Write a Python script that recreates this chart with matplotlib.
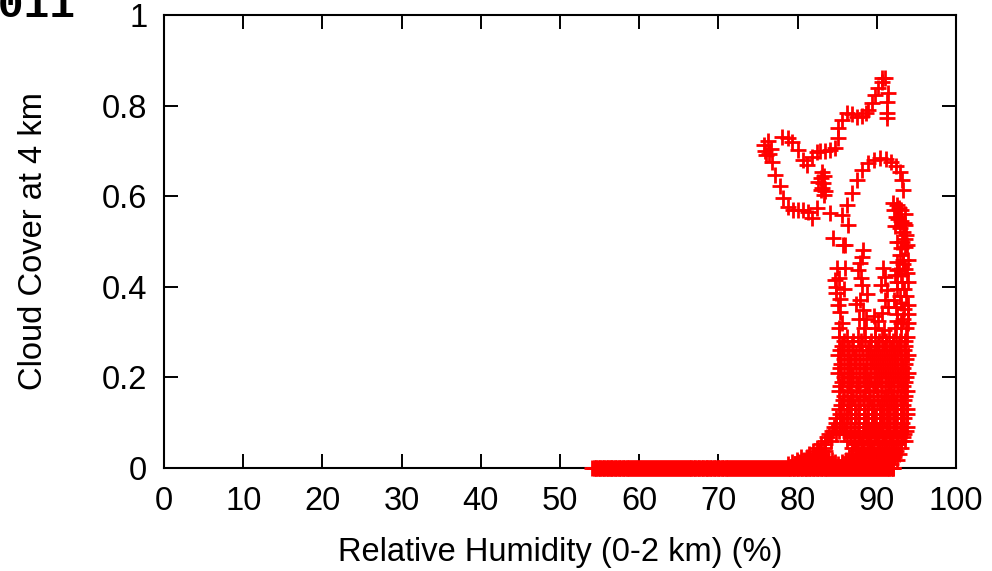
import matplotlib
matplotlib.use("Agg")
import matplotlib.pyplot as plt

# ---------------- data ----------------
x_ticks = [0, 10, 20, 30, 40, 50, 60, 70, 80, 90, 100]
y_ticks = [0, 0.2, 0.4, 0.6, 0.8, 1]
y_tick_labels = ["0", "0.2", "0.4", "0.6", "0.8", "1"]

# points lying on zero cloud cover
rh_zero = [54.1, 54.4, 54.6, 54.9, 55.1, 55.4, 55.6, 55.9, 56.1, 56.4, 56.6, 56.9,
           57.1, 57.4, 57.6, 57.9, 58.1, 58.4, 58.6, 58.9, 59.1, 59.4, 59.6, 59.9,
           60.1, 60.4, 60.6, 60.9, 61.1, 61.4, 61.6, 61.9, 62.1, 62.4, 62.6, 62.9,
           63.1, 63.4, 63.6, 63.9, 64.1, 64.4, 64.6, 64.9, 65.1, 65.4, 65.6, 65.9,
           66.1, 66.4, 66.6, 66.9, 67.1, 67.4, 67.6, 67.9, 68.1, 68.4, 68.6, 68.9,
           69.1, 69.4, 69.6, 69.9, 70.1, 70.4, 70.6, 70.9, 71.1, 71.4, 71.6, 71.9,
           72.1, 72.4, 72.6, 72.9, 73.1, 73.4, 73.6, 73.9, 74.1, 74.4, 74.6, 74.9,
           75.1, 75.4, 75.6, 75.9, 76.1, 76.4, 76.6, 76.9, 77.1, 77.4, 77.6, 77.9,
           78.1, 78.4, 78.6, 78.9, 79.1, 79.4, 79.6, 79.9, 80.1, 80.4, 80.6, 80.9,
           81.1, 81.4, 81.6, 81.9, 82.1, 82.4, 82.6, 82.9, 83.1, 83.4, 83.6, 83.9,
           84.1, 84.4, 84.6, 84.9, 85.1, 85.4, 85.6, 85.9, 86.1, 86.4, 86.6, 86.9,
           87.1, 87.4, 87.6, 87.9, 88.1, 88.4, 88.6, 88.9, 89.1, 89.4, 89.6, 89.9,
           90.1, 90.4, 90.6, 90.9, 91.1, 91.4, 91.6, 91.9, 92.1,
           54.25, 54.5, 54.75, 55.0, 55.25, 55.5, 55.75, 56.0, 56.25, 56.5, 56.75,
           57.0, 57.25, 57.5, 57.75, 58.0, 58.25, 58.5, 58.75, 59.0, 59.25, 59.5,
           59.75, 60.0, 60.25, 60.5, 60.75, 61.0, 61.25, 61.5, 61.75, 62.0, 62.25,
           62.5, 62.75, 63.0, 63.25, 63.5, 63.75, 64.0, 64.25, 64.5, 64.75, 65.0,
           65.25, 65.5, 65.75, 66.0, 66.25, 66.5, 66.75, 67.0, 67.25, 67.5, 67.75,
           68.0, 68.25, 68.5, 68.75, 69.0, 69.25, 69.5, 69.75, 70.0, 70.25, 70.5,
           70.75, 71.0, 71.25, 71.5, 71.75, 72.0, 72.25, 72.5, 72.75, 73.0, 73.25,
           73.5, 73.75, 74.0, 74.25, 74.5, 74.75, 75.0, 75.25, 75.5, 75.75, 76.0,
           76.25, 76.5, 76.75, 77.0, 77.25, 77.5, 77.75, 78.0, 78.25, 78.5, 78.75,
           79.0, 79.25, 79.5, 79.75, 80.0, 80.25, 80.5, 80.75, 81.0, 81.25, 81.5,
           81.75, 82.0, 82.25, 82.5, 82.75, 83.0, 83.25, 83.5, 83.75, 84.0, 84.25,
           84.5, 84.75, 85.0, 85.25, 85.5, 85.75, 86.0, 86.25, 86.5, 86.75, 87.0,
           87.25, 87.5, 87.75, 88.0, 88.25, 88.5, 88.75, 89.0, 89.25, 89.5, 89.75,
           90.0, 90.25, 90.5, 90.75, 91.0, 91.25, 91.5, 91.75, 92.0]
cc_zero = [0.0] * len(rh_zero)

# upper loops
rh_loop = [75.7, 75.9, 76.2, 76.4, 76.0, 76.6, 76.8, 77.1, 77.8, 78.2, 78.8, 79.4,
           80.1, 80.7, 81.3, 81.8, 82.4, 83.3,
           78.0, 78.8, 79.3, 80.1, 80.7, 81.2, 81.8, 82.4, 82.8, 83.5, 84.1, 84.7,
           85.1, 85.1, 85.6, 86.2, 86.9, 87.5, 88.1, 88.6, 88.9, 89.4, 89.8, 90.2,
           90.7, 91.0, 90.7, 91.4, 91.3, 91.3, 91.3,
           83.1, 83.0, 83.2, 83.1, 83.3, 82.9, 82.6, 83.4,
           84.1, 85.6, 86.2, 86.9, 87.5, 88.1, 88.9, 89.6, 90.4, 91.2, 91.8, 92.4,
           92.9, 93.2, 93.3,
           92.2, 92.5, 92.8, 93.1, 92.4, 92.7, 93.0, 93.4, 92.9, 92.3, 93.6, 92.0,
           93.3, 93.6, 93.7]
cc_loop = [0.712, 0.700, 0.722, 0.693, 0.690, 0.705, 0.675, 0.647, 0.623, 0.596, 0.576, 0.570,
           0.570, 0.570, 0.565, 0.552, 0.574, 0.603,
           0.731, 0.728, 0.720, 0.702, 0.680, 0.669, 0.687, 0.698, 0.700, 0.700, 0.702, 0.706,
           0.728, 0.750, 0.768, 0.784, 0.781, 0.775, 0.777, 0.784, 0.790, 0.806, 0.823, 0.839,
           0.852, 0.861, 0.862, 0.828, 0.808, 0.784, 0.773,
           0.653, 0.640, 0.629, 0.618, 0.644, 0.614, 0.632, 0.612,
           0.563, 0.558, 0.581, 0.607, 0.636, 0.658, 0.673, 0.680, 0.684, 0.682, 0.675, 0.667,
           0.653, 0.636, 0.614,
           0.570, 0.580, 0.575, 0.570, 0.555, 0.550, 0.545, 0.540, 0.530, 0.535, 0.560, 0.585,
           0.520, 0.536, 0.514]

# sparse middle region
rh_mid = [84.5, 86.0, 86.4, 85.7,
          84.8, 84.9, 85.1, 85.3, 85.0, 86.0, 85.2, 85.6, 85.2, 85.4, 84.7, 85.8,
          88.3, 88.1, 87.9, 87.6, 88.1, 87.9, 88.3, 88.0, 87.7, 88.4, 88.8, 87.4, 88.6,
          90.8, 91.0, 91.3, 91.0, 90.7, 90.2, 91.4, 90.5, 89.8, 90.9, 89.6,
          92.3, 93.0, 93.7, 92.6, 93.4, 93.9, 92.2, 92.9, 93.7, 92.5, 93.2, 93.9,
          92.8, 93.5, 93.3, 93.6, 92.9, 93.2, 93.8, 92.6, 93.3,
          92.6, 93.3, 94.0, 92.4, 93.1, 93.9, 92.6, 93.4, 92.3, 93.0, 93.8, 92.6,
          93.9, 93.0, 92.5, 93.5]
cc_mid = [0.508, 0.492, 0.536, 0.492,
          0.400, 0.386, 0.360, 0.344, 0.441, 0.441, 0.420, 0.320, 0.310, 0.372, 0.415, 0.395,
          0.481, 0.466, 0.453, 0.437, 0.404, 0.371, 0.349, 0.420, 0.330, 0.310, 0.385, 0.362, 0.330,
          0.441, 0.422, 0.393, 0.371, 0.342, 0.325, 0.355, 0.405, 0.310, 0.305, 0.335,
          0.310, 0.320, 0.310, 0.340, 0.350, 0.340, 0.370, 0.380, 0.380, 0.410, 0.410, 0.410,
          0.440, 0.440, 0.459, 0.488, 0.470, 0.500, 0.492, 0.437, 0.450,
          0.325, 0.330, 0.320, 0.355, 0.365, 0.360, 0.395, 0.395, 0.425, 0.425, 0.430, 0.455,
          0.460, 0.485, 0.500, 0.505]

# dense lower cloud
rh_low = [85.2, 86.3, 87.6, 88.5, 89.8, 90.7, 91.6, 92.4, 93.1, 93.8,
          85.9, 87.0, 88.0, 89.3, 90.3, 91.2, 92.1, 92.9, 93.6,
          85.6, 86.9, 88.1, 89.2, 90.2, 91.1, 92.0, 92.8, 93.5,
          85.3, 86.5, 87.7, 88.9, 89.9, 90.9, 91.8, 92.6, 93.4,
          85.1, 86.2, 87.4, 88.6, 89.7, 90.6, 91.5, 92.3, 93.1, 93.9,
          85.9, 87.1, 88.3, 89.4, 90.4, 91.3, 92.2, 93.0, 93.7,
          85.5, 86.7, 87.9, 89.1, 90.1, 91.0, 91.9, 92.7, 93.5,
          85.4, 86.5, 87.7, 88.8, 89.9, 90.8, 91.7, 92.5, 93.3,
          85.1, 86.2, 87.4, 88.5, 89.6, 90.5, 91.4, 92.3, 93.1, 93.9,
          85.8, 87.0, 88.2, 89.3, 90.3, 91.2, 92.0, 92.9, 93.7,
          85.6, 86.8, 87.9, 89.0, 90.0, 91.0, 91.8, 92.7, 93.5,
          85.4, 86.5, 87.6, 88.7, 89.8, 90.7, 91.6, 92.5, 93.3,
          85.2, 86.3, 87.4, 88.5, 89.5, 90.5, 91.4, 92.2, 93.0, 93.8,
          85.9, 87.0, 88.2, 89.2, 90.2, 91.2, 92.0, 92.9, 93.6,
          85.7, 86.8, 87.9, 89.0, 90.0, 90.9, 91.8, 92.6, 93.4,
          85.5, 86.5, 87.6, 88.7, 89.7, 90.7, 91.6, 92.4, 93.3,
          85.2, 86.2, 87.3, 88.4, 89.4, 90.4, 91.3, 92.2, 93.0, 93.8,
          85.3, 86.3, 87.3, 88.4, 89.4, 90.4, 91.3, 92.1, 93.0, 93.8,
          84.9, 85.8, 86.8, 87.8, 88.9, 89.9, 90.9, 91.7, 92.6, 93.4,
          84.8, 85.6, 86.6, 87.6, 88.6, 89.7, 90.6, 91.5, 92.4, 93.2,
          84.6, 85.4, 86.3, 87.3, 88.4, 89.4, 90.4, 91.3, 92.2, 93.0, 93.8,
          84.3, 85.2, 86.1, 87.1, 88.2, 89.2, 90.1, 91.1, 92.0, 92.9, 93.7,
          84.0, 84.9, 85.8, 86.8, 87.8, 88.9, 89.9, 90.8, 91.7, 92.6, 93.4,
          83.7, 86.6, 87.6, 88.6, 89.6, 90.6, 91.5, 92.4, 93.3,
          83.4, 84.2, 86.3, 87.3, 88.3, 89.3, 90.3, 91.2, 92.1, 93.0, 93.6,
          82.9, 83.5, 87.1, 88.0, 89.0, 90.0, 90.9, 91.8, 92.7,
          82.5, 83.3, 86.9, 87.6, 88.4, 89.4, 90.4, 91.3, 92.2, 93.1,
          81.9, 82.7, 83.4, 87.4, 88.7, 89.7, 90.7, 91.6, 92.4,
          81.5, 82.3, 83.1, 86.9, 87.6, 88.2, 89.2, 90.2, 91.2, 92.0, 92.8,
          80.4, 81.2, 82.0, 82.9, 83.8, 86.5, 87.5, 88.5, 89.5, 90.5, 91.4, 92.2,
          79.9, 80.8, 81.6, 82.5, 83.4, 84.3, 86.1, 87.0, 88.0, 89.0, 90.0, 91.0, 91.8, 92.5,
          79.3, 80.2, 81.1, 82.0, 82.9, 83.8, 84.7, 85.6, 86.5, 87.5, 88.5, 89.5, 90.5, 91.4,
          78.8, 79.7, 80.6, 81.5, 82.4, 83.3, 84.2, 85.1, 86.0, 87.0, 88.0, 89.0, 90.0, 91.0, 91.8]
cc_low = [0.29] * 10 + [0.28] * 9 + [0.27] * 9 + [0.26] * 9 + [0.25] * 10 + \
         [0.24] * 9 + [0.23] * 9 + [0.22] * 9 + [0.21] * 10 + [0.20] * 9 + \
         [0.19] * 9 + [0.18] * 9 + [0.17] * 10 + [0.16] * 9 + [0.15] * 9 + \
         [0.14] * 9 + [0.13] * 10 + [0.12] * 10 + [0.11] * 10 + [0.10] * 10 + \
         [0.09] * 11 + [0.082] * 11 + [0.075] * 11 + [0.068] * 9 + [0.06] * 11 + \
         [0.052] * 9 + [0.045] * 10 + [0.038] * 9 + [0.03] * 11 + [0.024] * 12 + \
         [0.018] * 14 + [0.013] * 14 + [0.008] * 15

rh = rh_zero + rh_loop + rh_mid + rh_low
cc = cc_zero + cc_loop + cc_mid + cc_low

# ---------------- figure ----------------
plt.rcParams['font.family'] = ['Liberation Sans', 'DejaVu Sans']
fig = plt.figure(figsize=(9.92, 5.71), dpi=100)
ax = fig.add_axes([164 / 992, 1 - 468 / 571, (956 - 164) / 992, (468 - 15) / 571])

ax.plot(rh, cc, linestyle='none', marker='+', markersize=11, markeredgewidth=2.0,
        color='#ff0000', clip_on=False, zorder=3, snap=False)

ax.set_xlim(0, 100)
ax.set_ylim(0, 1)
ax.set_xticks(x_ticks)
ax.set_yticks(y_ticks)
ax.set_yticklabels(y_tick_labels)
ax.tick_params(direction='in', length=10, width=1.4, top=True, right=True,
               labelsize=23.5, colors='black')
ax.tick_params(axis='x', pad=13)
ax.tick_params(axis='y', pad=12)
for s in ax.spines.values():
    s.set_linewidth(1.5)

ax.set_xlabel("Relative Humidity (0-2 km) (%)", fontsize=23.5, labelpad=14)
ax.set_ylabel("Cloud Cover at 4 km", fontsize=23.5, labelpad=38)

fig.text(75 / 992, 1 - 17 / 571, "2011", ha='right', va='baseline',
         fontsize=31, fontweight='bold', family='Liberation Mono')

fig.savefig("out.png", dpi=100)
